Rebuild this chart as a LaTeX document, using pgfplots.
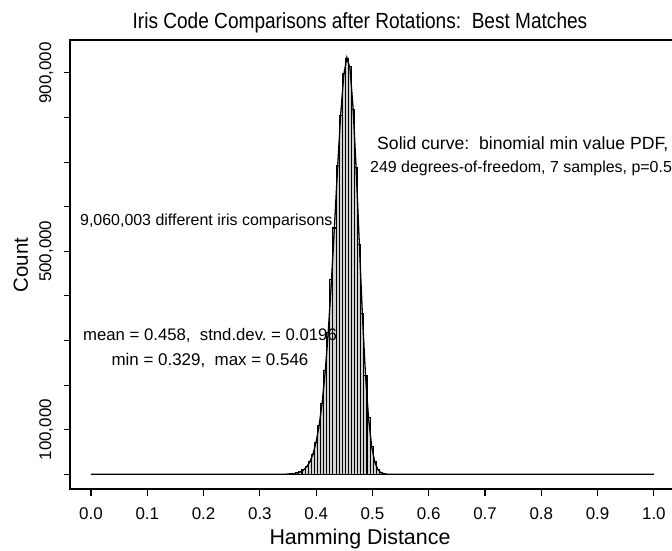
\documentclass[border=0pt]{standalone}
\usepackage{fontspec}
\setmainfont{Liberation Sans}
\usepackage{graphicx}
\usepackage{pgfplots}
\pgfplotsset{compat=1.18}
\usetikzlibrary{calc}
\frenchspacing
\newcommand\yl[1]{\rotatebox{90}{#1}}
\begin{document}
\begin{tikzpicture}
\begin{axis}[name=ax, scale only axis, width=606.4bp, height=449bp,
  xmin=-0.0373, xmax=1.04, ymin=-32960, ymax=973800,
  axis line style={line width=1.6bp},
  tick style={line width=1.1bp, black},
  tick align=outside, major tick length=6.5bp, minor tick length=6.5bp,
  xtick pos=left, ytick pos=left,
  xtick={0,0.1,0.2,0.3,0.4,0.5,0.6,0.7,0.8,0.9,1},
  xticklabels={0.0,0.1,0.2,0.3,0.4,0.5,0.6,0.7,0.8,0.9,1.0},
  ytick={100000,500000,900000},
  yticklabels={\yl{100,000},\yl{500,000},\yl{900,000}},
  minor ytick={0,200000,300000,400000,600000,700000,800000},
  scaled y ticks=false,
  xticklabel style={font=\fontsize{17}{17}\selectfont, anchor=north, inner sep=0pt, yshift=-12bp},
  yticklabel style={font=\fontsize{17}{17}\selectfont, anchor=east, inner sep=0pt, xshift=-10bp},
]
% histogram of best-match Hamming distances
\addplot[ybar, bar width=0.0055, bar shift=0pt, fill=gray!35, draw=black, line width=1.05bp] coordinates {
(0.3281,20) (0.3336,80) (0.3391,150) (0.3446,300) (0.3501,560) (0.3556,1000)
(0.3611,1800) (0.3666,3300) (0.3721,5900) (0.3776,10200) (0.3831,17100)
(0.3886,28300) (0.3941,45200) (0.3996,71000) (0.4051,108500) (0.4106,157800)
(0.4161,232600) (0.4216,318400) (0.4271,435900) (0.4326,552300) (0.4381,691800)
(0.4436,803500) (0.4491,899100) (0.4546,931200) (0.4601,913800) (0.4656,817600)
(0.4711,688100) (0.4766,515900) (0.4821,361300) (0.4876,220900) (0.4931,126700)
(0.4986,61400) (0.5041,28100) (0.5096,10500) (0.5151,3800) (0.5206,1050)
(0.5261,310) (0.5316,70) (0.5371,15) (0.5426,5)
};
% solid curve: binomial min value PDF
\addplot[black, line width=1.3bp] coordinates {
(0.0,0) (0.3281,0) (0.3336,55) (0.3391,114) (0.3446,233) (0.3501,460) (0.3556,890)
(0.3611,1677) (0.3666,3088) (0.3721,5537) (0.3776,9690) (0.3831,16520)
(0.3886,27420) (0.3941,44410) (0.3996,69990) (0.4051,107220) (0.4106,159440)
(0.4161,230120) (0.4216,321090) (0.4271,431840) (0.4326,556890) (0.4381,687590)
(0.4436,807190) (0.4491,895700) (0.4546,934450) (0.4601,910230) (0.4656,821470)
(0.4711,683770) (0.4766,519610) (0.4821,358760) (0.4876,223380) (0.4931,125230)
(0.4986,62350) (0.5041,27540) (0.5096,10800) (0.5151,3697) (0.5206,1109)
(0.5261,290) (0.5316,66) (0.5371,0) (1.0,0)
};
\end{axis}
\coordinate (O) at ($(ax.south west)+(-70bp,489bp)$);
\node[anchor=base, inner sep=0pt, font=\fontsize{22}{22}\selectfont] at ($(O)+(360bp,-29bp)$)
  {\scalebox{0.87}[1]{Iris Code Comparisons after Rotations:\ \ Best Matches}};
\node[anchor=base, inner sep=0pt, font=\fontsize{21.5}{21.5}\selectfont] at ($(O)+(360bp,-544bp)$) {Hamming Distance};
\node[anchor=base, rotate=90, inner sep=0pt, font=\fontsize{20.5}{20.5}\selectfont] at ($(O)+(28bp,-265bp)$) {Count};
\node[anchor=base west, inner sep=0pt, font=\fontsize{17.7}{17.7}\selectfont] at ($(O)+(377bp,-150bp)$) {Solid curve:\ \ binomial min value PDF,};
\node[anchor=base west, inner sep=0pt, font=\fontsize{16}{16}\selectfont] at ($(O)+(370bp,-173bp)$) {249 degrees-of-freedom, 7 samples, p=0.5};
\node[anchor=base west, inner sep=0pt, font=\fontsize{16}{16}\selectfont] at ($(O)+(80bp,-226bp)$) {9,060,003 different iris comparisons};
\node[anchor=base, inner sep=0pt, font=\fontsize{16.8}{16.8}\selectfont] at ($(O)+(210bp,-341bp)$) {mean = 0.458,\ \ stnd.dev. = 0.0196};
\node[anchor=base, inner sep=0pt, font=\fontsize{17}{17}\selectfont] at ($(O)+(210bp,-366bp)$) {min = 0.329,\ \ max = 0.546};
\pgfresetboundingbox
\path[use as bounding box] (O) rectangle ($(O)+(672bp,-551bp)$);
\end{tikzpicture}
\end{document}
